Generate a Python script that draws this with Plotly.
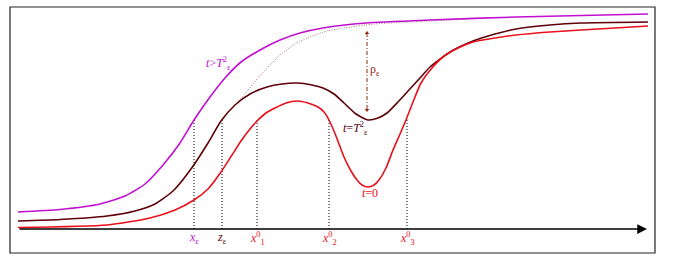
import plotly.graph_objects as go

# ---- data (x position, height above the axis) ----
purple_x = [18, 60, 100, 125, 145, 163, 180, 194, 210, 225, 241, 260, 280, 300, 323, 366, 430, 516, 648]
purple_y = [17, 19.5, 25, 33, 45, 64, 86, 109, 132, 151, 167, 179, 189, 196, 201, 206, 209, 212, 215]

dark_x = [18, 60, 107, 135, 155, 173, 191, 208, 221, 235, 250, 267, 282, 297, 312, 323, 334, 344, 356,
          368, 378, 387, 398, 409, 420, 430, 450, 473, 495, 516, 550, 581, 648]
dark_y = [8, 9.5, 13, 18, 25, 38, 60, 86, 108, 124, 135, 142, 145, 146, 144, 141, 135, 126, 115,
          109, 111, 116, 127, 139, 151, 162, 177, 188, 195, 200, 204, 206, 207]

red_x = [18, 107, 150, 175, 194, 208, 221, 232, 241, 250, 257, 266, 275, 286, 297, 308, 318, 324, 329,
         336, 344, 351, 357, 362, 368, 374, 379, 386, 393, 400, 406, 413, 421, 432, 443, 458, 473, 495,
         516, 550, 581, 615, 648]
red_y = [1.5, 4, 11, 19, 29, 40, 57, 74, 88, 100, 108, 116, 121, 126, 128, 126, 122, 117, 109,
         93, 72, 58, 49, 44, 42, 44, 49, 61, 79, 95, 109, 127, 146, 161, 172, 181, 187, 191,
         194, 197, 199, 201, 203]

ghost_x = [237, 248, 258, 270, 280, 295, 310, 327, 344, 365, 387, 410, 430, 470]
ghost_y = [126, 139, 151, 164, 174, 185, 192, 198, 201, 204, 206, 207, 208, 210]

mark_x = [194, 222, 257, 329, 407]
mark_top = [109, 109, 109, 109, 109]
mark_labels = ["<i>x</i><sub>ε</sub>", "<i>z</i><sub>ε</sub>", "<i>x</i><sup>0</sup><sub>1</sub>",
               "<i>x</i><sup>0</sup><sub>2</sub>", "<i>x</i><sup>0</sup><sub>3</sub>"]

rho_x = 367
rho_top = 196
rho_bottom = 118

PURPLE = "#c010d0"
DARK = "#5e0008"
RED = "#e8101a"
BROWN = "#8a2a10"
FONT = "Liberation Serif"

fig = go.Figure()

# dotted vertical marks
for xv, top in zip(mark_x, mark_top):
    fig.add_trace(go.Scatter(x=[xv, xv], y=[0, top], mode="lines",
                             line=dict(color="black", width=1, dash="1px,2px"),
                             hoverinfo="skip", showlegend=False))

fig.add_trace(go.Scatter(x=ghost_x, y=ghost_y, mode="lines",
                         line=dict(color="#b07878", width=1, dash="1px,1.5px", shape="spline", smoothing=0.6),
                         showlegend=False))
for xs, ys, c in [(purple_x, purple_y, PURPLE), (dark_x, dark_y, DARK), (red_x, red_y, RED)]:
    fig.add_trace(go.Scatter(x=xs, y=ys, mode="lines",
                             line=dict(color=c, width=1.6, shape="spline", smoothing=0.6),
                             showlegend=False))

# rho arrow (dashed)
fig.add_trace(go.Scatter(x=[rho_x, rho_x], y=[rho_top, rho_bottom], mode="lines",
                         line=dict(color=BROWN, width=1, dash="4px,2px,1px,2px"), showlegend=False))
fig.add_trace(go.Scatter(x=[rho_x, rho_x], y=[rho_top, rho_bottom + 1], mode="markers",
                         marker=dict(symbol=["triangle-up", "triangle-down"], size=4, color=BROWN),
                         showlegend=False))

# frame
fig.add_shape(type="rect", x0=10, x1=655, y0=-24, y1=222,
              line=dict(color="#222222", width=1.2), fillcolor="rgba(0,0,0,0)")
# axis with arrow
fig.add_annotation(x=647, y=0, ax=18, ay=0, xref="x", yref="y", axref="x", ayref="y",
                   showarrow=True, arrowhead=2, arrowsize=1.3, arrowwidth=1.5,
                   arrowcolor="black", text="")

label_colors = [PURPLE, DARK, RED, RED, RED]
for xv, lab, c in zip(mark_x, mark_labels, label_colors):
    fig.add_annotation(x=xv, y=-9, text=lab, showarrow=False,
                       font=dict(family=FONT, size=12, color=c))

fig.add_annotation(x=218, y=166, text="<i>t</i>><i>T</i><sup>2</sup><sub>ε</sub>", showarrow=False,
                   font=dict(family=FONT, size=12, color=PURPLE))
fig.add_annotation(x=355, y=101, text="<i>t</i>=<i>T</i><sup>2</sup><sub>ε</sub>", showarrow=False,
                   font=dict(family=FONT, size=12, color=DARK))
fig.add_annotation(x=370, y=36, text="<i>t</i>=0", showarrow=False,
                   font=dict(family=FONT, size=12, color=RED))
fig.add_annotation(x=375, y=159, text="ρ<sub>ε</sub>", showarrow=False,
                   font=dict(family=FONT, size=12, color=BROWN))

fig.update_layout(width=675, height=268, margin=dict(l=0, r=0, t=0, b=0),
                  paper_bgcolor="white", plot_bgcolor="white",
                  xaxis=dict(range=[0, 675], visible=False, fixedrange=True),
                  yaxis=dict(range=[-39, 229], visible=False, fixedrange=True))

fig.write_html("out.html")
